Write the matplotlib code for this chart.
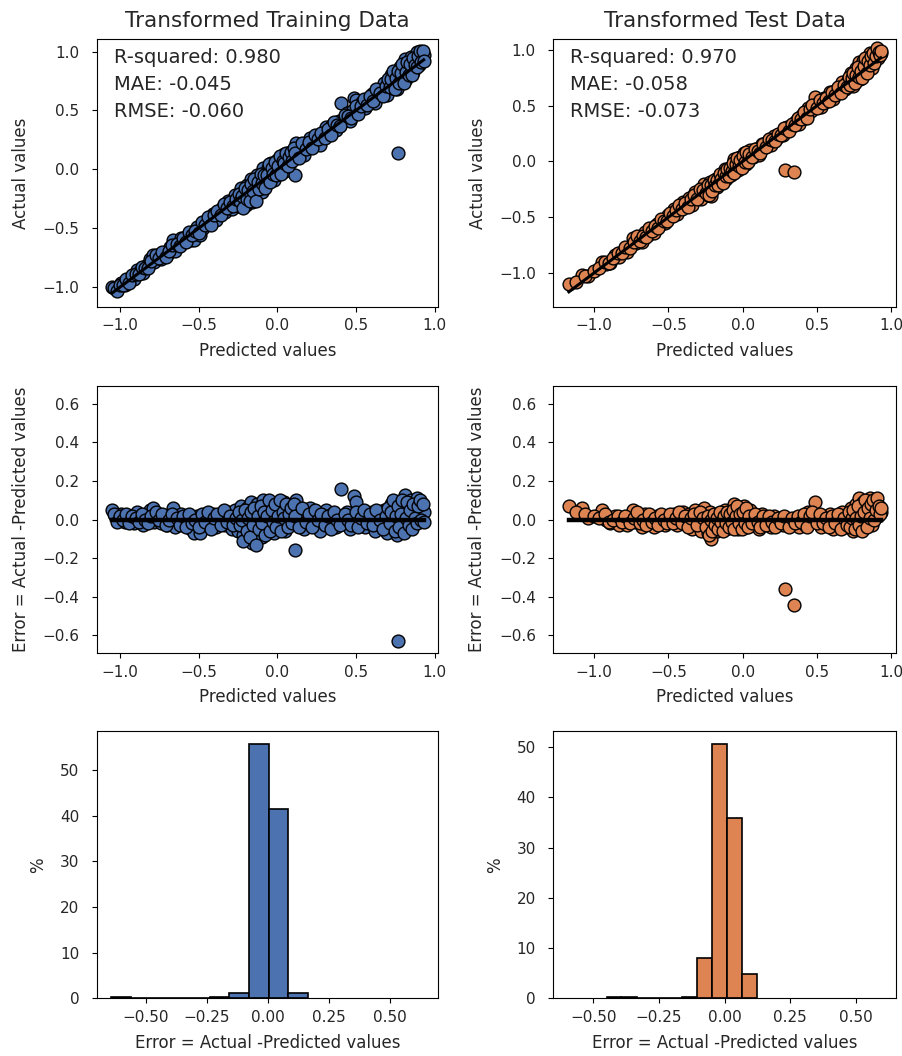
import numpy as np
import matplotlib
matplotlib.use("Agg")
import matplotlib.pyplot as plt

# ---------------- data ----------------
train_pred = [-1.05, -1.03, -1.01, -0.99, -0.97, -0.95, -0.93, -0.91, -0.89, -0.87,
              -0.85, -0.83, -0.81, -0.79, -0.78, -0.76, -0.74, -0.72, -0.70, -0.68,
              -0.66, -0.65, -0.63, -0.61, -0.59, -0.57, -0.55, -0.53, -0.51, -0.49,
              -0.47, -0.45, -0.43, -0.41, -0.39, -0.37, -0.35, -0.33, -0.31, -0.29,
              -0.27, -0.25, -0.23, -0.22, -0.21, -0.20, -0.19, -0.18, -0.17, -0.16,
              -0.15, -0.14, -0.13, -0.12, -0.11, -0.10, -0.09, -0.08, -0.07, -0.06,
              -0.05, -0.04, -0.03, -0.02, -0.01, 0.00, 0.01, 0.02, 0.03, 0.04,
              0.05, 0.06, 0.07, 0.08, 0.09, 0.10, 0.11, 0.12, 0.13, 0.15,
              0.17, 0.19, 0.21, 0.23, 0.25, 0.27, 0.29, 0.31, 0.33, 0.35,
              0.37, 0.39, 0.405, 0.42, 0.44, 0.46, 0.48, 0.49, 0.50, 0.52,
              0.54, 0.56, 0.58, 0.60, 0.62, 0.64, 0.66, 0.68, 0.70, 0.71,
              0.72, 0.73, 0.74, 0.75, 0.76, 0.77, 0.78, 0.79, 0.80, 0.81,
              0.82, 0.83, 0.84, 0.85, 0.86, 0.87, 0.88, 0.89, 0.90, 0.91,
              0.92, 0.93,
              -1.04, -1.02, -1.00, -0.98, -0.96, -0.94, -0.92, -0.90, -0.88, -0.86,
              -0.84, -0.82, -0.80, -0.77, -0.75, -0.73, -0.71, -0.69, -0.67, -0.64,
              -0.62, -0.60, -0.58, -0.56, -0.54, -0.52, -0.50, -0.48, -0.46, -0.44,
              -0.42, -0.40, -0.38, -0.36, -0.34, -0.32, -0.30, -0.28, -0.26, -0.245,
              -0.235, -0.225, -0.215, -0.205, -0.195, -0.185, -0.175, -0.165, -0.155, -0.145,
              -0.135, -0.125, -0.115, -0.105, -0.095, -0.085, -0.075, -0.065, -0.055, -0.045,
              -0.035, -0.025, -0.015, -0.005, 0.005, 0.015, 0.025, 0.035, 0.045, 0.055,
              0.065, 0.075, 0.085, 0.095, 0.105, 0.115, 0.14, 0.16, 0.18, 0.20,
              0.22, 0.24, 0.26, 0.28, 0.30, 0.32, 0.34, 0.36, 0.38, 0.40,
              0.43, 0.45, 0.47, 0.50, 0.51, 0.53, 0.55, 0.57, 0.59, 0.61,
              0.63, 0.65, 0.67, 0.69, 0.705, 0.715, 0.725, 0.735, 0.745, 0.755,
              0.765, 0.775, 0.785, 0.795, 0.805, 0.815, 0.825, 0.835, 0.845, 0.855,
              0.865, 0.875, 0.885, 0.895, 0.905, 0.915, 0.925, 0.93]
train_err = [0.05, 0.02, 0.01, 0.03, -0.01, 0.02, 0.00, -0.02, 0.04, 0.01,
             -0.03, 0.02, 0.05, 0.06, -0.01, 0.03, -0.02, 0.01, -0.03, 0.02,
             0.06, -0.04, 0.00, 0.03, -0.02, 0.01, -0.05, -0.07, 0.02, -0.07,
             -0.03, 0.01, -0.02, 0.03, -0.04, 0.00, 0.02, -0.03, 0.04, -0.05,
             0.05, -0.06, 0.07, -0.08, 0.02, -0.10, 0.06, -0.04, 0.09, -0.12,
             0.03, -0.07, 0.08, -0.02, 0.05, -0.09, 0.10, 0.00, -0.05, 0.07,
             -0.03, 0.09, 0.02, -0.07, 0.04, 0.08, -0.04, 0.06, -0.01, 0.09,
             -0.06, 0.03, 0.07, -0.03, 0.01, 0.05, -0.16, 0.10, -0.02, 0.04,
             -0.05, 0.02, 0.06, -0.03, 0.03, -0.06, 0.01, 0.05, -0.02, 0.03,
             -0.04, 0.02, 0.16, -0.01, 0.04, -0.05, 0.02, 0.12, 0.09, -0.02,
             0.03, -0.04, 0.01, 0.04, -0.06, 0.02, -0.03, 0.05, -0.07, 0.03,
             0.08, -0.04, 0.01, 0.06, -0.08, -0.63, 0.09, -0.02, 0.04, 0.13,
             -0.05, 0.07, 0.00, 0.10, -0.03, 0.05, 0.02, 0.11, -0.01, 0.06,
             0.03, 0.04,
             0.03, -0.01, 0.02, 0.00, 0.03, -0.02, 0.02, 0.01, -0.01, 0.03,
             0.00, -0.02, 0.02, 0.04, 0.00, 0.03, -0.03, 0.00, 0.03, 0.01,
             -0.03, 0.02, -0.04, 0.03, -0.02, 0.00, -0.04, 0.03, -0.01, 0.04,
             -0.05, 0.01, 0.03, -0.03, 0.05, -0.01, 0.02, -0.03, 0.01, 0.04,
             -0.03, 0.00, -0.11, 0.05, -0.06, 0.01, -0.09, 0.04, -0.03, 0.06,
             -0.13, 0.02, -0.05, 0.07, -0.02, 0.04, -0.08, 0.02, 0.10, -0.06,
             0.05, -0.01, 0.08, -0.04, 0.02, 0.10, -0.06, 0.04, 0.01, 0.08,
             -0.04, 0.03, 0.06, -0.02, 0.08, 0.02, -0.04, 0.06, -0.01, 0.03,
             -0.04, 0.05, 0.00, 0.03, -0.03, 0.02, -0.05, 0.04, 0.00, -0.03,
             0.03, 0.00, -0.03, 0.04, -0.04, 0.01, 0.05, -0.02, 0.03, -0.03,
             0.05, 0.00, -0.05, 0.02, 0.06, -0.02, 0.04, 0.10, -0.06, 0.02,
             0.07, -0.04, 0.03, 0.10, -0.07, 0.01, 0.09, -0.03, 0.05, -0.05,
             0.08, 0.01, -0.02, 0.07, 0.10, 0.00, 0.08, -0.01]

test_pred = [-1.17, -1.08, -1.04, -0.95, -0.92, -0.89, -0.86, -0.83, -0.80, -0.78,
             -0.74, -0.72, -0.70, -0.68, -0.66, -0.64, -0.62, -0.60, -0.58, -0.56,
             -0.54, -0.52, -0.50, -0.48, -0.46, -0.44, -0.42, -0.40, -0.38, -0.36,
             -0.34, -0.32, -0.30, -0.28, -0.26, -0.25, -0.23, -0.22, -0.21, -0.20,
             -0.18, -0.17, -0.15, -0.14, -0.12, -0.11, -0.09, -0.08, -0.06, -0.05,
             -0.04, -0.03, -0.02, -0.01, 0.00, 0.01, 0.02, 0.03, 0.04, 0.05,
             0.07, 0.09, 0.11, 0.13, 0.15, 0.17, 0.19, 0.21, 0.23, 0.25,
             0.27, 0.285, 0.30, 0.32, 0.348, 0.36, 0.38, 0.40, 0.42, 0.44,
             0.46, 0.49, 0.51, 0.53, 0.55, 0.57, 0.59, 0.61, 0.63, 0.65,
             0.67, 0.69, 0.71, 0.73, 0.74, 0.75, 0.76, 0.77, 0.78, 0.79,
             0.80, 0.81, 0.82, 0.83, 0.84, 0.85, 0.86, 0.87, 0.88, 0.89,
             0.90, 0.91, 0.92, 0.93,
             -1.12, -1.06, -1.00, -0.97, -0.93, -0.90, -0.87, -0.84, -0.81, -0.79,
             -0.76, -0.73, -0.71, -0.69, -0.67, -0.65, -0.63, -0.61, -0.59, -0.57,
             -0.55, -0.53, -0.51, -0.49, -0.47, -0.45, -0.43, -0.41, -0.39, -0.37,
             -0.35, -0.33, -0.31, -0.29, -0.27, -0.245, -0.235, -0.225, -0.215, -0.205,
             -0.195, -0.185, -0.175, -0.165, -0.155, -0.145, -0.135, -0.125, -0.115, -0.105,
             -0.095, -0.085, -0.075, -0.065, -0.055, -0.045, -0.035, -0.025, -0.015, -0.005,
             0.005, 0.015, 0.025, 0.035, 0.045, 0.06, 0.08, 0.10, 0.12, 0.14,
             0.16, 0.18, 0.20, 0.22, 0.24, 0.26, 0.28, 0.31, 0.33, 0.35,
             0.37, 0.39, 0.41, 0.43, 0.45, 0.47, 0.50, 0.52, 0.54, 0.56,
             0.58, 0.60, 0.62, 0.64, 0.66, 0.68, 0.70, 0.715, 0.725, 0.735,
             0.745, 0.755, 0.765, 0.775, 0.785, 0.795, 0.805, 0.815, 0.825, 0.835,
             0.845, 0.855, 0.865, 0.875, 0.885, 0.895, 0.905, 0.915, 0.925, 0.93]
test_err = [0.07, 0.06, 0.01, 0.05, 0.00, -0.02, 0.02, -0.03, 0.00, -0.03,
            0.05, -0.01, 0.02, -0.04, 0.03, -0.02, 0.01, -0.04, 0.02, -0.02,
            0.01, -0.03, 0.02, -0.01, 0.03, -0.03, 0.01, 0.04, -0.02, 0.03,
            -0.05, 0.05, 0.00, -0.06, 0.06, -0.02, -0.07, 0.04, -0.10, -0.04,
            0.02, -0.06, 0.03, -0.03, 0.05, -0.05, 0.01, -0.04, 0.08, -0.02,
            0.04, -0.05, 0.06, 0.00, -0.03, 0.07, -0.04, 0.03, -0.01, 0.05,
            -0.03, 0.02, -0.05, 0.03, -0.02, 0.01, -0.04, 0.02, -0.02, 0.00,
            -0.03, -0.36, 0.01, -0.02, -0.44, 0.00, -0.04, 0.02, -0.03, 0.04,
            -0.01, 0.09, 0.01, -0.04, 0.02, -0.03, 0.03, -0.05, 0.01, -0.03,
            0.04, -0.04, 0.02, 0.06, -0.06, -0.02, 0.08, 0.03, 0.11, -0.05,
            0.05, 0.09, -0.02, 0.07, 0.01, 0.10, 0.11, -0.03, 0.06, 0.03,
            0.08, 0.02, 0.05, 0.04,
            0.04, 0.03, 0.02, 0.01, 0.03, -0.01, 0.00, 0.02, -0.01, 0.02,
            -0.02, 0.01, 0.04, -0.02, 0.00, -0.03, 0.03, -0.01, 0.01, -0.03,
            0.03, 0.00, -0.02, 0.03, -0.02, 0.01, 0.04, -0.02, 0.02, -0.04,
            0.01, 0.03, -0.03, 0.04, 0.01, -0.04, 0.02, -0.08, 0.00, -0.06,
            0.03, -0.03, 0.01, -0.05, 0.04, -0.01, -0.06, 0.02, -0.02, 0.04,
            -0.04, 0.03, -0.01, 0.05, -0.05, 0.02, 0.07, -0.02, 0.03, -0.05,
            0.04, -0.02, 0.06, -0.04, 0.02, -0.02, 0.03, -0.01, -0.04, 0.02,
            -0.03, 0.02, -0.01, -0.04, 0.01, -0.02, 0.02, -0.04, 0.01, -0.02,
            0.02, -0.01, 0.03, -0.04, 0.02, 0.04, -0.02, 0.03, -0.02, 0.01,
            -0.04, 0.02, -0.02, 0.03, -0.05, 0.01, -0.03, 0.04, -0.04, 0.01,
            0.05, -0.05, 0.01, 0.07, -0.03, 0.02, -0.06, 0.04, 0.10, -0.04,
            0.06, 0.01, 0.08, 0.10, 0.00, 0.05, 0.11, 0.07, 0.03, 0.06]

train_bin_edges = [-0.640, -0.559, -0.479, -0.398, -0.317, -0.237, -0.156, -0.076, 0.005, 0.085, 0.166]
train_pct = [0.3, 0.0, 0.0, 0.0, 0.0, 0.35, 1.2, 55.7, 41.4, 1.2]
test_bin_edges = [-0.450, -0.393, -0.335, -0.278, -0.220, -0.163, -0.106, -0.048, 0.009, 0.067, 0.124]
test_pct = [0.3, 0.3, 0.0, 0.0, 0.0, 0.25, 8.0, 50.7, 35.9, 4.8]

titles = ["Transformed Training Data", "Transformed Test Data"]
metrics = [["R-squared: 0.980", "MAE: -0.045", "RMSE: -0.060"],
           ["R-squared: 0.970", "MAE: -0.058", "RMSE: -0.073"]]

# ---------------- style ----------------
BLUE = "#4c72b0"
ORANGE = "#dd8452"
TXT = "#262626"
TICK_FS = 11
LABEL_FS = 12
TEXT_FS = 14
TITLE_FS = 15.5

plt.rcParams["text.color"] = TXT
plt.rcParams["axes.labelcolor"] = TXT
plt.rcParams["xtick.labelcolor"] = TXT
plt.rcParams["ytick.labelcolor"] = TXT

fig = plt.figure(figsize=(9.03, 10.56), dpi=100)

col_x = [0.1071, 0.6127]
col_w = [0.3783, 0.3795]
row_y = [0.7096, 0.3813, 0.0545]
row_h = 0.2533


def style(ax):
    ax.tick_params(labelsize=TICK_FS)
    ax.tick_params(axis="y", pad=9)
    ax.tick_params(axis="x", pad=5)


sets = [
    (np.array(train_pred), np.array(train_err), BLUE, train_bin_edges, train_pct,
     (-1.147, 1.023), (-1.165, 1.105), (-0.70, 0.70)),
    (np.array(test_pred), np.array(test_err), ORANGE, test_bin_edges, test_pct,
     (-1.275, 1.032), (-1.303, 1.097), (-0.653, 0.653)),
]

for c, (pred, err, color, edges, pct, xl, yl, hxl) in enumerate(sets):
    actual = pred + err

    # Row 1: actual vs predicted
    ax = fig.add_axes([col_x[c], row_y[0], col_w[c], row_h])
    ax.scatter(pred, actual, s=85, c=color, edgecolors="black", linewidths=1.0, zorder=2)
    ax.plot([pred.min(), pred.max()], [pred.min(), pred.max()], color="black", lw=2.2, zorder=3)
    ax.set_xlim(*xl)
    ax.set_ylim(*yl)
    ax.set_xticks([-1.0, -0.5, 0.0, 0.5, 1.0])
    ax.set_yticks([-1.0, -0.5, 0.0, 0.5, 1.0])
    ax.set_title(titles[c], fontsize=TITLE_FS, pad=9)
    ax.set_xlabel("Predicted values", fontsize=LABEL_FS, labelpad=6)
    ax.set_ylabel("Actual values", fontsize=LABEL_FS, labelpad=9)
    style(ax)
    for t, yy in zip(metrics[c], [0.93, 0.83, 0.73]):
        ax.text(0.05, yy, t, transform=ax.transAxes, fontsize=TEXT_FS,
                va="center", ha="left")

    # Row 2: error vs predicted
    ax = fig.add_axes([col_x[c], row_y[1], col_w[c], row_h])
    ax.scatter(pred, err, s=85, c=color, edgecolors="black", linewidths=1.0, zorder=2)
    ax.plot([pred.min(), pred.max()], [0, 0], color="black", lw=3.2, zorder=3)
    ax.set_xlim(*xl)
    ax.set_ylim(-0.693, 0.693)
    ax.set_xticks([-1.0, -0.5, 0.0, 0.5, 1.0])
    ax.set_yticks([-0.6, -0.4, -0.2, 0.0, 0.2, 0.4, 0.6])
    ax.set_xlabel("Predicted values", fontsize=LABEL_FS, labelpad=6)
    ax.set_ylabel("Error = Actual -Predicted values", fontsize=LABEL_FS, labelpad=9)
    style(ax)

    # Row 3: histogram of errors
    ax = fig.add_axes([col_x[c], row_y[2], col_w[c], row_h])
    e = np.array(edges)
    ax.bar(e[:-1], pct, width=np.diff(e), align="edge", color=color,
           edgecolor="black", linewidth=1.2)
    ax.set_xlim(*hxl)
    ax.set_xticks([-0.5, -0.25, 0.0, 0.25, 0.5])
    ax.set_xticklabels(["\u22120.50", "\u22120.25", "0.00", "0.25", "0.50"])
    ax.set_yticks([0, 10, 20, 30, 40, 50])
    ax.set_xlabel("Error = Actual -Predicted values", fontsize=LABEL_FS, labelpad=6)
    ax.set_ylabel("%", fontsize=LABEL_FS, labelpad=9)
    style(ax)

fig.savefig("out.png", dpi=100)
